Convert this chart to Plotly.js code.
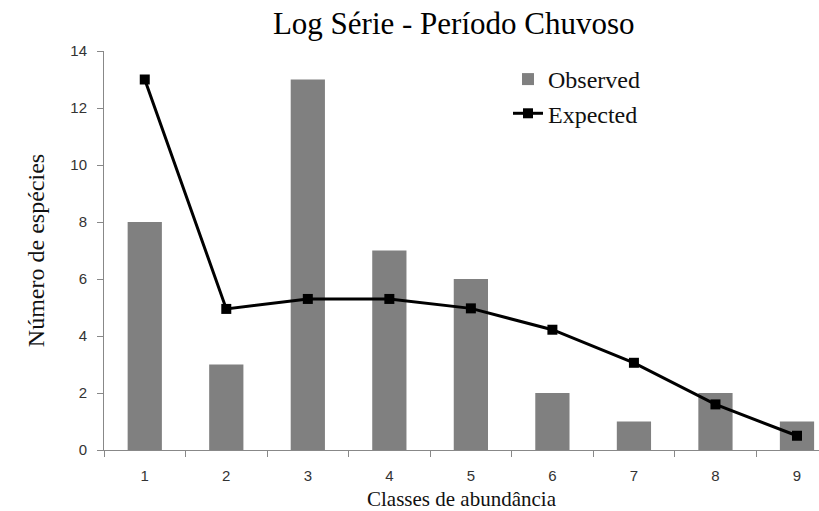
<!DOCTYPE html>
<html>
<head>
<meta charset="utf-8">
<script src="https://cdn.plot.ly/plotly-3.0.1.min.js"></script>
<style>html,body{margin:0;padding:0;background:#fff;}#chart{width:819px;height:511px;}</style>
</head>
<body>
<div id="chart"></div>
<script>
const classes = ["1","2","3","4","5","6","7","8","9"];
const observed = [8, 3, 13, 7, 6, 2, 1, 2, 1];
const expected = [13, 4.95, 5.3, 5.3, 4.97, 4.22, 3.06, 1.6, 0.5];

const traces = [
  {
    type: 'bar', name: 'Observed', x: classes, y: observed,
    marker: {color: '#808080'}
  },
  {
    type: 'scatter', mode: 'lines+markers', name: 'Expected', x: classes, y: expected,
    line: {color: '#000000', width: 3},
    marker: {symbol: 'square', size: 10, color: '#000000'}
  }
];

const layout = {
  width: 819, height: 511,
  margin: {l: 104, r: 0, t: 51, b: 61},
  paper_bgcolor: '#ffffff', plot_bgcolor: '#ffffff',
  bargap: 0.58,
  showlegend: true,
  title: {
    text: 'Log Série - Período Chuvoso',
    font: {family: 'Liberation Serif', size: 31, color: '#000'},
    x: 0.554, xanchor: 'center', xref: 'container',
    y: 0.955, yanchor: 'middle', yref: 'container'
  },
  legend: {
    x: 0.565, y: 0.985, xanchor: 'left', yanchor: 'top',
    font: {family: 'Liberation Serif', size: 24, color: '#111'},
    bgcolor: 'rgba(0,0,0,0)', itemwidth: 30, tracegroupgap: 0
  },
  xaxis: {
    type: 'category', range: [-0.5, 8.27],
    tickson: 'boundaries', ticks: 'outside', ticklen: 6, tickcolor: '#888',
    ticklabelstandoff: 12,
    showline: true, linecolor: '#888', linewidth: 1,
    showgrid: false, zeroline: false,
    tickfont: {family: 'Liberation Sans', size: 15, color: '#333'},
    title: {text: 'Classes de abundância', standoff: 9,
            font: {family: 'Liberation Serif', size: 21, color: '#111'}},
    automargin: false, fixedrange: true
  },
  yaxis: {
    range: [0, 14], dtick: 2, tick0: 0,
    ticks: 'outside', ticklen: 6, tickcolor: '#888',
    ticklabelstandoff: 7,
    showline: true, linecolor: '#888', linewidth: 1,
    showgrid: false, zeroline: false,
    tickfont: {family: 'Liberation Sans', size: 15, color: '#333'},
    title: {text: 'Número de espécies', standoff: 18,
            font: {family: 'Liberation Serif', size: 24, color: '#111'}},
    automargin: false, fixedrange: true
  }
};

Plotly.newPlot('chart', traces, layout, {displayModeBar: false, staticPlot: true});
</script>
</body>
</html>
